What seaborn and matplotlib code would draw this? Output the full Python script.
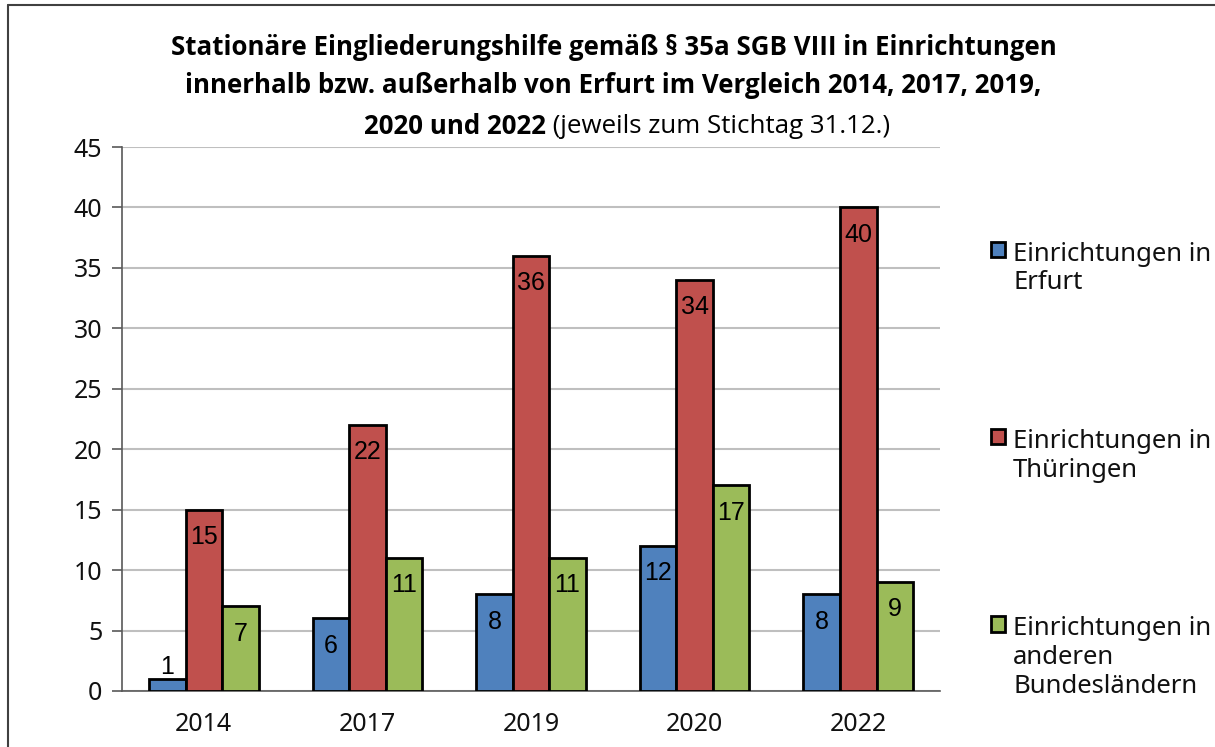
import pandas as pd
import numpy as np
import matplotlib.pyplot as plt
import seaborn as sns
from matplotlib.lines import Line2D

sns.set_theme(style="white")
plt.rcParams['font.family'] = ['Noto Sans', 'DejaVu Sans']
plt.rcParams['text.color'] = 'black'

# Daten
jahre = ['2014', '2017', '2019', '2020', '2022']
gruppen = ['Einrichtungen in\nErfurt', 'Einrichtungen in\nThüringen',
           'Einrichtungen in\nanderen\nBundesländern']
erfurt = [1, 6, 8, 12, 8]
thueringen = [15, 22, 36, 34, 40]
andere = [7, 11, 11, 17, 9]
farben = ['#4F81BD', '#C0504D', '#9BBB59']

df = pd.DataFrame({
    'Jahr': jahre * 3,
    'Gruppe': [gruppen[0]] * 5 + [gruppen[1]] * 5 + [gruppen[2]] * 5,
    'Anzahl': erfurt + thueringen + andere,
})

fig = plt.figure(figsize=(12.15, 7.47), dpi=100)
ax = fig.add_axes([0.1004, 0.075, 0.6733, 0.7282])

sns.barplot(data=df, x='Jahr', y='Anzahl', hue='Gruppe', palette=farben, saturation=1,
            width=0.67, edgecolor='black', linewidth=2, ax=ax, zorder=3)

# Werte an die Balken
for cont in ax.containers:
    for bar in cont:
        h = bar.get_height()
        xc = bar.get_x() + bar.get_width() / 2
        if h < 3:
            ax.annotate(f'{int(h)}', (xc, h), xytext=(0, 0), textcoords='offset points',
                        ha='center', va='bottom', fontsize=18, family='Liberation Sans',
                        color='black')
        else:
            ax.annotate(f'{int(h)}', (xc, h), xytext=(0, -11), textcoords='offset points',
                        ha='center', va='top', fontsize=18, family='Liberation Sans',
                        color='black')

ax.set_ylim(0, 45)
ax.set_yticks(range(0, 46, 5))
ax.set_xlim(-0.5, 4.5)
ax.set_xlabel('')
ax.set_ylabel('')
ax.yaxis.grid(True, color='#BFBFBF', linewidth=1.5, zorder=0)
ax.set_axisbelow(True)
for s in ['top', 'right']:
    ax.spines[s].set_visible(False)
for s in ['left', 'bottom']:
    ax.spines[s].set_color('#595959')
    ax.spines[s].set_linewidth(1.2)

ax.set_xticks(np.arange(-0.5, 5, 1), minor=True)
ax.tick_params(axis='x', which='major', length=0, labelsize=18, labelcolor='#111111', pad=15)
ax.tick_params(axis='x', which='minor', length=8, width=1.2, color='#595959', direction='out')
ax.tick_params(axis='y', length=7, width=1.2, color='#595959', direction='out',
               labelsize=18, labelcolor='#111111', left=True, pad=7)

# Legende
leg = ax.legend(loc='upper left', bbox_to_anchor=(1.05, 0.845), frameon=False,
                fontsize=18.5, labelspacing=5.2, handlelength=0.55, handleheight=0.55,
                handletextpad=0.3, borderaxespad=0)
for t in leg.get_texts():
    t.set_color('#111111')
for hp in leg._legend_handle_box.get_children()[0].get_children():
    hp.align = 'top'

# Titel
tf = dict(ha='center', va='center', fontsize=18.6, fontweight='bold', family='Open Sans')
fig.text(0.505, 0.936, 'Stationäre Eingliederungshilfe gemäß § 35a SGB VIII in Einrichtungen', **tf)
fig.text(0.505, 0.886, 'innerhalb bzw. außerhalb von Erfurt im Vergleich 2014, 2017, 2019,', **tf)
t1 = fig.text(0.0, 0.831, '2020 und 2022', ha='left', va='center', fontsize=18.6,
              fontweight='bold', family='Open Sans')
t2 = fig.text(0.0, 0.831, ' (jeweils zum Stichtag 31.12.)', ha='left', va='center',
              fontsize=18.6, family='Open Sans')
fig.canvas.draw()
r = fig.canvas.get_renderer()
w1 = t1.get_window_extent(r).width / fig.bbox.width
w2 = t2.get_window_extent(r).width / fig.bbox.width
x0 = 0.516 - (w1 + w2) / 2
t1.set_x(x0)
t2.set_x(x0 + w1)

# Rahmen
fig.add_artist(Line2D([0.0066, 0.0066], [0, 0.993], transform=fig.transFigure,
                      color='#404040', linewidth=1.5))
fig.add_artist(Line2D([0.0066, 1], [0.993, 0.993], transform=fig.transFigure,
                      color='#404040', linewidth=1.5))

fig.savefig('out.png', dpi=100)
